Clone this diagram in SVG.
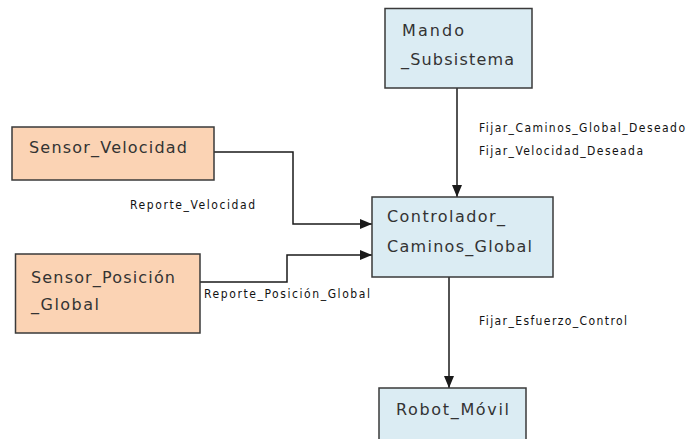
<svg xmlns="http://www.w3.org/2000/svg" width="689" height="439" viewBox="0 0 689 439">
  <style>
    .blue { fill: #dbecf3; stroke: #3a3a3a; stroke-width: 1.5; }
    .orange { fill: #fbd3b4; stroke: #3a3a3a; stroke-width: 1.5; }
    .name { font-family: "DejaVu Sans", Verdana, sans-serif; font-size: 16px; fill: #333333; }
    .flow { font-family: "DejaVu Sans Condensed", "DejaVu Sans", sans-serif; font-size: 12px; fill: #111111; }
    .wire { fill: none; stroke: #1a1a1a; stroke-width: 1.5; }
  </style>
  <defs>
    <marker id="arrow" viewBox="0 0 12 10" refX="12" refY="5" markerWidth="12" markerHeight="10" markerUnits="userSpaceOnUse" orient="auto">
      <path d="M0,0 L12,5 L0,10 Z" fill="#1a1a1a"/>
    </marker>
  </defs>
  <rect width="689" height="439" fill="#ffffff"/>

  <g id="connectors">
    <path class="wire" d="M457,88 V197" marker-end="url(#arrow)"/>
    <path class="wire" d="M214,152 H293 V224 H372" marker-end="url(#arrow)"/>
    <path class="wire" d="M200,282 H287 V255 H372" marker-end="url(#arrow)"/>
    <path class="wire" d="M449,277 V388" marker-end="url(#arrow)"/>
    <text class="flow" x="479" y="132" textLength="206">Fijar_Caminos_Global_Deseado</text>
    <text class="flow" x="479" y="155" textLength="164">Fijar_Velocidad_Deseada</text>
    <text class="flow" x="130" y="209" textLength="125">Reporte_Velocidad</text>
    <text class="flow" x="204" y="298" textLength="166">Reporte_Posición_Global</text>
    <text class="flow" x="479" y="325" textLength="148">Fijar_Esfuerzo_Control</text>
  </g>

  <g id="mando-subsistema">
    <rect class="blue" x="385" y="8.5" width="147" height="79.5"/>
    <text class="name" x="402" y="36" textLength="62">Mando</text>
    <text class="name" x="401" y="65" textLength="113">_Subsistema</text>
  </g>

  <g id="sensor-velocidad">
    <rect class="orange" x="12" y="127" width="202" height="53"/>
    <text class="name" x="29" y="153" textLength="158">Sensor_Velocidad</text>
  </g>

  <g id="sensor-posicion-global">
    <rect class="orange" x="15.5" y="254" width="184.5" height="79"/>
    <text class="name" x="31" y="283" textLength="144">Sensor_Posición</text>
    <text class="name" x="31" y="310" textLength="68">_Global</text>
  </g>

  <g id="controlador-caminos-global">
    <rect class="blue" x="372" y="197" width="181" height="80"/>
    <text class="name" x="387" y="222" textLength="118">Controlador_</text>
    <text class="name" x="387" y="252" textLength="145">Caminos_Global</text>
  </g>

  <g id="robot-movil">
    <rect class="blue" x="379" y="388" width="147" height="60"/>
    <text class="name" x="396" y="415" textLength="113">Robot_Móvil</text>
  </g>
</svg>
